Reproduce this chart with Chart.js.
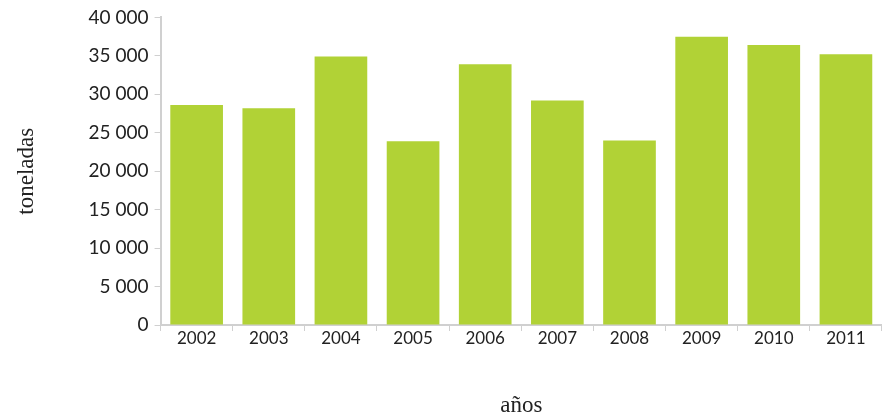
<!DOCTYPE html>
<html>
<head>
<meta charset="utf-8">
<script src="https://cdn.jsdelivr.net/npm/chart.js@4"></script>
<style>
  html, body { margin: 0; padding: 0; background: #fff; }
  #wrap { width: 882px; height: 417px; }
</style>
</head>
<body>
<div id="wrap"><canvas id="myChart"></canvas></div>
<script>
var years = ['2002', '2003', '2004', '2005', '2006', '2007', '2008', '2009', '2010', '2011'];
var toneladas = [28600, 28200, 34900, 23900, 33900, 29200, 24000, 37500, 36400, 35200];
var yTicks = [0, 5000, 10000, 15000, 20000, 25000, 30000, 35000, 40000];

document.addEventListener('DOMContentLoaded', function () {
    var ctx = document.getElementById('myChart').getContext('2d');
    var axisGrey = '#d0d0d0';

    new Chart(ctx, {
        type: 'bar',
        data: {
            labels: years,
            datasets: [{
                data: toneladas,
                backgroundColor: '#b1d236',
                barPercentage: 0.73,
                categoryPercentage: 1
            }]
        },
        options: {
            responsive: true,
            maintainAspectRatio: false,
            animation: false,
            layout: { padding: { top: 4, right: 0, left: 13, bottom: -3 } },
            plugins: {
                legend: { display: false },
                tooltip: { enabled: false }
            },
            scales: {
                x: {
                    grid: { display: true, drawOnChartArea: false, drawTicks: true, tickLength: 6, color: axisGrey, offset: true },
                    border: { display: true, color: axisGrey, width: 2 },
                    ticks: { color: '#222', font: { family: 'Lato', size: 17 }, padding: -3 },
                    title: {
                        display: true, text: 'años', color: '#222',
                        font: { family: 'Liberation Serif', size: 23 },
                        padding: { top: 47, bottom: 0 }
                    }
                },
                y: {
                    min: 0, max: 40000,
                    afterBuildTicks: function (axis) {
                        axis.ticks = yTicks.map(function (v) { return { value: v }; });
                    },
                    grid: { display: true, drawOnChartArea: false, drawTicks: true, tickLength: 6, color: axisGrey },
                    border: { display: true, color: axisGrey, width: 2 },
                    ticks: {
                        color: '#222', font: { family: 'Lato', size: 19 }, padding: 6,
                        callback: function (v) {
                            return String(v).replace(/\B(?=(\d{3})+(?!\d))/g, ' ');
                        }
                    },
                    title: {
                        display: true, text: 'toneladas', color: '#222',
                        font: { family: 'Liberation Serif', size: 23 },
                        padding: { top: 0, bottom: 42 }
                    }
                }
            }
        }
    });
});
</script>
</body>
</html>
